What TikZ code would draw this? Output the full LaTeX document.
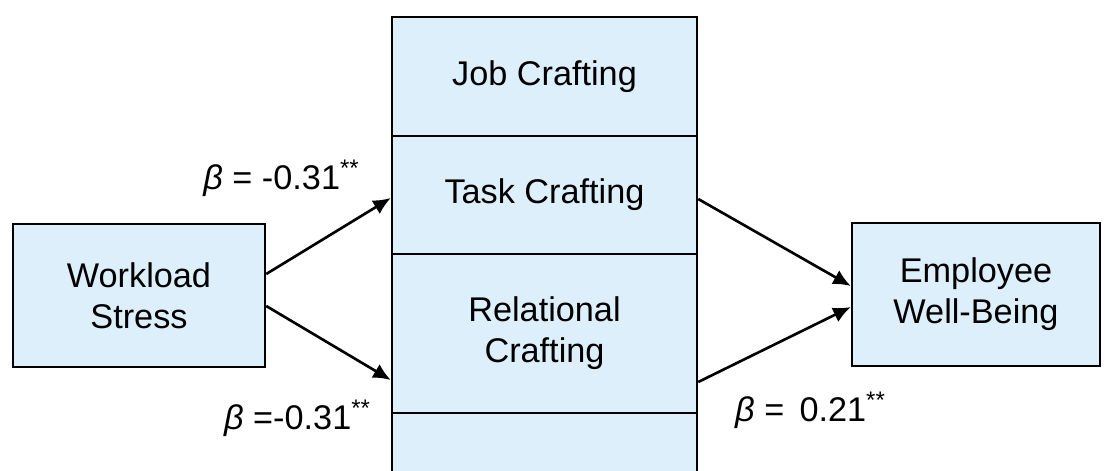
\documentclass[tikz,border=0pt]{standalone}
\usepackage{fontspec}
\setmainfont{Liberation Sans}
\usetikzlibrary{arrows.meta}

\definecolor{boxblue}{HTML}{DCEFFB}

\tikzset{
  box/.style={draw, line width=1.4pt, fill=boxblue, align=center, inner sep=0pt},
  path/.style={line width=1.5pt, -{Latex[length=10pt, width=9pt]}},
  coef/.style={inner sep=0pt}
}

\begin{document}
\begin{tikzpicture}[font=\fontsize{19.5}{23.4}\selectfont]
            \useasboundingbox (0,0) rectangle (22.1,9.4);

            \node[box, minimum width=5.04cm, minimum height=2.86cm] (ws) at (2.78,3.49) {Workload\\Stress};

            % crafting column
            \node[box, minimum width=6.1cm, minimum height=2.38cm] (job) at (10.89,7.87) {Job Crafting};
            \node[box, minimum width=6.1cm, minimum height=2.36cm] (task) at (10.89,5.50) {Task Crafting};
            \node[box, minimum width=6.1cm, minimum height=3.18cm] (rel) at (10.89,2.73) {Relational\\Crafting};
            \node[box, minimum width=6.1cm, minimum height=2.2cm] (more) at (10.89,0.04) {};

            \node[box, minimum width=4.96cm, minimum height=2.86cm] (wb) at (19.52,3.51) {Employee\\Well-Being};

            \draw[path] ([yshift=0.43cm]ws.east) -- ([yshift=-0.06cm]task.west);
            \draw[path] ([yshift=-0.21cm]ws.east) -- ([yshift=-0.93cm]rel.west);
            \draw[path] ([yshift=-0.08cm]task.east) -- ([yshift=0.17cm]wb.west);
            \draw[path] ([yshift=-0.97cm]rel.east) -- ([yshift=-0.25cm]wb.west);

            \node[coef] (b1) at (5.63,5.84) {{\itshape β} = -0.31\textsuperscript{**}};
            \node[coef] (b2) at (5.95,1.04) {{\itshape β} =-0.31\textsuperscript{**}};
            \node[coef] (b3) at (16.21,1.20) {{\itshape β} =\, 0.21\textsuperscript{**}};
        \end{tikzpicture}
\end{document}
